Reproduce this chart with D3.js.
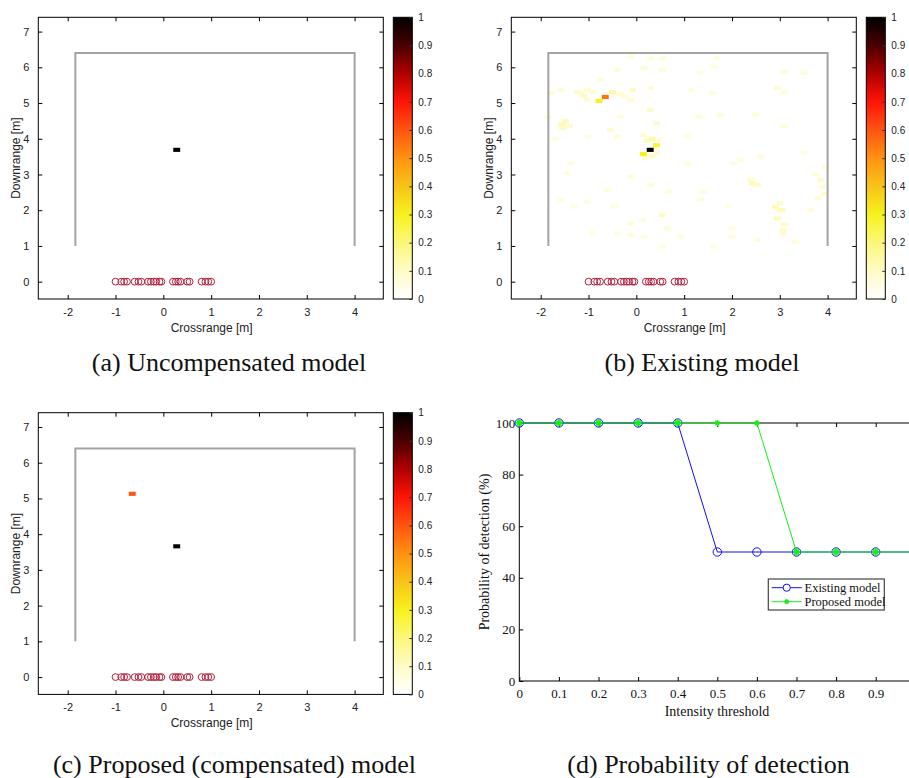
<!DOCTYPE html>
<html><head><meta charset="utf-8">
<script src="https://cdn.jsdelivr.net/npm/d3@7"></script>
<style>body{margin:0;background:#fff}svg{display:block}</style>
</head><body>
<svg id="fig" width="909" height="778"></svg>
<script>
// ---------------- data ----------------
const mapXTicks = [-2, -1, 0, 1, 2, 3, 4];
const mapYTicks = [0, 1, 2, 3, 4, 5, 6, 7];
const cbTicks = [0, 0.1, 0.2, 0.3, 0.4, 0.5, 0.6, 0.7, 0.8, 0.9, 1];
const cbLabels = ["0", "0.1", "0.2", "0.3", "0.4", "0.5", "0.6", "0.7", "0.8", "0.9", "1"];
const wallX = [-1.84, -1.84, 4.0, 4.0];
const wallY = [1.0, 6.4, 6.4, 1.0];
const arrayX = [-1.0, -0.88, -0.82, -0.76, -0.6, -0.52, -0.46, -0.32, -0.26, -0.2, -0.15, -0.08, -0.04,
                0.2, 0.26, 0.31, 0.36, 0.5, 0.55, 0.8, 0.88, 0.94, 1.0];
const cellsA = [[0.28, 3.69, 1.0]];
const cellsB = [
  [0.29, 3.69, 1.0], [-0.65, 5.17, 0.55], [-0.78, 5.06, 0.3], [0.15, 3.57, 0.3], [0.42, 3.82, 0.27],
  [-0.5, 5.3, 0.14], [0.33, 4.0, 0.14], [0.23, 3.95, 0.12], [0.33, 3.52, 0.1], [0.43, 3.62, 0.09],
  [-1.1, 5.2, 0.1], [-1.23, 5.3, 0.09], [-1.55, 4.4, 0.12], [-1.48, 4.5, 0.11], [-1.55, 4.3, 0.09],
  [0.29, 4.8, 0.1], [0.42, 4.43, 0.09], [-0.08, 5.37, 0.1], [-0.12, 5.09, 0.08], [0.3, 5.42, 0.08],
  [2.43, 2.75, 0.12], [2.53, 2.7, 0.1], [2.91, 2.1, 0.12], [3.05, 2.0, 0.12], [2.95, 1.77, 0.12],
  [3.07, 1.45, 0.09], [3.07, 1.35, 0.08], [3.85, 2.85, 0.09], [3.89, 2.66, 0.08], [0.54, 1.87, 0.1],
  [0.68, 2.52, 0.07], [3.5, 5.84, 0.07], [3.09, 5.88, 0.08], [2.95, 5.42, 0.07], [3.09, 5.3, 0.08],
  [-0.12, 6.3, 0.06], [0.3, 6.25, 0.07], [0.54, 6.25, 0.07], [-0.4, 5.93, 0.07], [0.16, 5.98, 0.07],
  [0.54, 5.93, 0.07], [1.62, 6.02, 0.06], [1.69, 6.25, 0.06], [1.34, 5.84, 0.06], [2.49, 4.67, 0.06],
  [1.76, 4.67, 0.06], [1.31, 4.62, 0.07], [1.59, 5.28, 0.06], [1.14, 5.37, 0.06], [2.18, 3.41, 0.06],
  [2.6, 3.5, 0.07], [3.09, 4.34, 0.07], [3.5, 3.6, 0.06], [-0.54, 4.25, 0.08], [-0.4, 4.06, 0.07],
  [-1.02, 4.06, 0.06], [-1.37, 3.31, 0.07], [-1.44, 3.03, 0.06], [-1.58, 2.29, 0.06], [-1.02, 2.24, 0.06],
  [-1.3, 2.1, 0.06], [-0.12, 2.94, 0.07], [0.3, 2.7, 0.07], [-0.12, 1.63, 0.07], [0.13, 1.73, 0.06],
  [-0.12, 1.31, 0.07], [0.16, 1.26, 0.06], [-0.4, 1.35, 0.06], [-0.92, 1.35, 0.06], [0.54, 0.98, 0.06],
  [0.93, 1.26, 0.06], [1.62, 0.98, 0.06], [2.0, 1.49, 0.06], [2.0, 1.26, 0.06], [2.53, 1.17, 0.06],
  [3.33, 1.12, 0.07], [3.64, 2.0, 0.07], [0.65, 1.49, 0.07], [1.07, 3.31, 0.06], [1.41, 2.52, 0.06],
  [2.04, 3.31, 0.06], [1.34, 2.29, 0.06], [1.93, 2.1, 0.06], [-0.61, 2.57, 0.06], [-0.47, 2.1, 0.06],
  [1.07, 4.06, 0.06], [-1.02, 5.37, 0.08], [-1.16, 5.28, 0.08], [-1.58, 5.37, 0.07], [-1.79, 5.28, 0.07],
  [-1.02, 5.09, 0.07], [-0.33, 4.62, 0.07], [-0.75, 5.65, 0.06], [-0.35, 5.25, 0.08], [-0.25, 5.2, 0.07],
  [3.75, 3.0, 0.08], [3.95, 2.45, 0.08], [3.95, 3.2, 0.07], [3.8, 2.35, 0.07], [3.1, 1.6, 0.09],
  [2.4, 2.85, 0.08], [2.98, 2.0, 0.09], [3.0, 2.2, 0.08], [-1.7, 4.0, 0.06], [-1.85, 4.6, 0.06],
  [-1.4, 4.35, 0.08], [-0.9, 5.3, 0.07], [0.15, 4.1, 0.08], [0.45, 3.95, 0.08], [0.2, 3.45, 0.08]
];
const cellsC = [[0.28, 3.66, 1.0], [-0.65, 5.13, 0.6]];
const thresholds = [0, 0.1, 0.2, 0.3, 0.4, 0.5, 0.6, 0.7, 0.8, 0.9, 1.0];
const existingPd = [100, 100, 100, 100, 100, 50, 50, 50, 50, 50, 50];
const proposedPd = [100, 100, 100, 100, 100, 100, 100, 50, 50, 50, 50];
const pdXTicks = [0, 0.1, 0.2, 0.3, 0.4, 0.5, 0.6, 0.7, 0.8, 0.9, 1];
const pdXLabels = ["0", "0.1", "0.2", "0.3", "0.4", "0.5", "0.6", "0.7", "0.8", "0.9", ""];
const pdYTicks = [0, 20, 40, 60, 80, 100];
const captions = ["(a) Uncompensated model", "(b) Existing model", "(c) Proposed (compensated) model", "(d) Probability of detection"];

// ---------------- drawing ----------------
const svg = d3.select("#fig");
const SANS = "'Liberation Sans', Arial, sans-serif";
const SERIF = "'Liberation Serif', 'Times New Roman', serif";
const defs = svg.append("defs");
defs.append("filter").attr("id", "soft").attr("x", "-50%").attr("y", "-50%").attr("width", "200%").attr("height", "200%")
  .append("feGaussianBlur").attr("stdDeviation", 0.6);

const hot = d3.scaleLinear()
  .domain([0, 0.1, 0.2, 0.3, 0.4, 0.5, 0.6, 0.7, 0.8, 0.9, 1])
  .range(["#ffffff", "#fffbc6", "#fbf77a", "#f6f21c", "#f8c418", "#ff9210", "#ff5410", "#ff1408", "#b00000", "#4a0000", "#000000"])
  .clamp(true);

const DX = 0.145, DY = 0.115;

function mapPanel(ox, oy, cells) {
  const L = 38.3 + ox, R = 383.3 + ox, T = 17.3 + oy, B = 299 + oy;
  const x = d3.scaleLinear().domain([-2.615, 4.6]).range([L, R]);
  const y = d3.scaleLinear().domain([-0.485, 7.4]).range([B, T]);
  const g = svg.append("g");
  // cells
  g.append("g").attr("filter", "url(#soft)")
    .selectAll("rect").data(cells.slice().sort((a, b) => a[2] - b[2])).join("rect")
    .attr("x", d => x(d[0] - DX / 2)).attr("y", d => y(d[1] + DY / 2))
    .attr("width", x(DX) - x(0)).attr("height", y(0) - y(DY))
    .attr("fill", d => hot(d[2]));
  // wall
  const line = d3.line().x(d => x(d[0])).y(d => y(d[1]));
  g.append("path").datum(wallX.map((v, i) => [v, wallY[i]]))
    .attr("d", line).attr("fill", "none").attr("stroke", "#a3a3a3").attr("stroke-width", 2);
  // array elements
  g.selectAll("circle.el").data(arrayX).join("circle")
    .attr("cx", d => x(d)).attr("cy", y(0)).attr("r", 3.4)
    .attr("fill", "none").attr("stroke", "#b3203c").attr("stroke-width", 1);
  // frame
  g.append("rect").attr("x", L).attr("y", T).attr("width", R - L).attr("height", B - T)
    .attr("fill", "none").attr("stroke", "#000").attr("stroke-width", 1);
  // axes with inward ticks
  const tl = 4;
  const ax = g.append("g").attr("transform", `translate(0,${B})`)
    .call(d3.axisBottom(x).tickValues(mapXTicks).tickSize(-tl).tickPadding(9).tickFormat(d3.format("d")));
  const axt = g.append("g").attr("transform", `translate(0,${T})`)
    .call(d3.axisTop(x).tickValues(mapXTicks).tickSize(-tl).tickFormat(""));
  const ay = g.append("g").attr("transform", `translate(${L},0)`)
    .call(d3.axisLeft(y).tickValues(mapYTicks).tickSize(-tl).tickPadding(9).tickFormat(d3.format("d")));
  const ayr = g.append("g").attr("transform", `translate(${R},0)`)
    .call(d3.axisRight(y).tickValues(mapYTicks).tickSize(-tl).tickFormat(""));
  [ax, axt, ay, ayr].forEach(a => {
    a.select(".domain").remove();
    a.selectAll("text").attr("font-family", SANS).attr("font-size", 11).attr("fill", "#222");
  });
  ax.selectAll("text").text(d => d < 0 ? "-" + Math.abs(d) : d);
  g.append("text").attr("x", (x(-2) + x(4)) / 2 + 0.5).attr("y", B + 33)
    .attr("text-anchor", "middle").attr("font-family", SANS).attr("font-size", 12).attr("fill", "#222")
    .text("Crossrange [m]");
  g.append("text").attr("transform", `translate(${L - 18},${(T + B) / 2}) rotate(-90)`)
    .attr("text-anchor", "middle").attr("font-family", SANS).attr("font-size", 12).attr("fill", "#222")
    .text("Downrange [m]");
  // colorbar
  const cL = 393.3 + ox, cW = 19;
  const cy = d3.scaleLinear().domain([0, 1]).range([B, T]);
  const gradId = "grad" + ox + "_" + Math.round(oy);
  const grad = defs.append("linearGradient").attr("id", gradId)
    .attr("x1", 0).attr("y1", 1).attr("x2", 0).attr("y2", 0);
  d3.range(0, 1.0001, 0.05).forEach(v => grad.append("stop").attr("offset", v).attr("stop-color", hot(v)));
  g.append("rect").attr("x", cL).attr("y", T).attr("width", cW).attr("height", B - T)
    .attr("fill", `url(#${gradId})`).attr("stroke", "#000").attr("stroke-width", 1);
  const cax = g.append("g").attr("transform", `translate(${cL + cW},0)`)
    .call(d3.axisRight(cy).tickValues(cbTicks).tickSize(-3).tickPadding(6).tickFormat((d, i) => cbLabels[i]));
  cax.select(".domain").remove();
  cax.selectAll("line").attr("stroke", "#333");
  cax.selectAll("text").attr("font-family", SANS).attr("font-size", 10).attr("fill", "#222");
}

mapPanel(0, 0, cellsA);
mapPanel(473, 0, cellsB);
mapPanel(0, 395.4, cellsC);

// ---------------- panel d ----------------
(function () {
  const L = 519.3, T = 423, B = 681;
  const x = d3.scaleLinear().domain([0, 1]).range([L, L + 396]);
  const y = d3.scaleLinear().domain([0, 100]).range([B, T]);
  const R = x(1);
  const g = svg.append("g");
  g.append("rect").attr("x", L).attr("y", T).attr("width", R - L).attr("height", B - T)
    .attr("fill", "none").attr("stroke", "#000").attr("stroke-width", 1);
  const tl = 4;
  const ax = g.append("g").attr("transform", `translate(0,${B})`)
    .call(d3.axisBottom(x).tickValues(pdXTicks).tickSize(-tl).tickPadding(8).tickFormat((d, i) => pdXLabels[i]));
  const axt = g.append("g").attr("transform", `translate(0,${T})`)
    .call(d3.axisTop(x).tickValues(pdXTicks).tickSize(-tl).tickFormat(""));
  const ay = g.append("g").attr("transform", `translate(${L},0)`)
    .call(d3.axisLeft(y).tickValues(pdYTicks).tickSize(-tl).tickPadding(4));
  [ax, axt, ay].forEach(a => {
    a.select(".domain").remove();
    a.selectAll("text").attr("font-family", SERIF).attr("font-size", 13).attr("fill", "#111");
  });
  g.append("text").attr("x", 717).attr("y", 716).attr("text-anchor", "middle")
    .attr("font-family", SERIF).attr("font-size", 14).attr("fill", "#111").text("Intensity threshold");
  g.append("text").attr("transform", `translate(489,552) rotate(-90)`).attr("text-anchor", "middle")
    .attr("font-family", SERIF).attr("font-size", 14).attr("fill", "#111").text("Probability of detection (%)");

  const line = d3.line().x(d => x(d[0])).y(d => y(d[1]));
  const ex = thresholds.map((t, i) => [t, existingPd[i]]);
  const pr = thresholds.map((t, i) => [t, proposedPd[i]]);
  const BLUE = "#1010f0", GREEN = "#18ee18";
  g.append("path").datum(ex).attr("d", line).attr("fill", "none").attr("stroke", BLUE).attr("stroke-width", 1);
  g.selectAll("circle.ex").data(ex).join("circle")
    .attr("cx", d => x(d[0])).attr("cy", d => y(d[1])).attr("r", 4.2)
    .attr("fill", "none").attr("stroke", BLUE).attr("stroke-width", 1);
  g.append("path").datum(pr).attr("d", line).attr("fill", "none").attr("stroke", GREEN).attr("stroke-width", 1);
  function star(sel, cx, cy, r) {
    const s = sel.append("g").attr("transform", `translate(${cx},${cy})`);
    s.append("circle").attr("r", r * 0.7).attr("fill", GREEN);
    [0, 45, 90, 135].forEach(a => {
      const rad = a * Math.PI / 180;
      s.append("line").attr("x1", -r * Math.cos(rad)).attr("y1", -r * Math.sin(rad))
        .attr("x2", r * Math.cos(rad)).attr("y2", r * Math.sin(rad))
        .attr("stroke", GREEN).attr("stroke-width", 1.3);
    });
  }
  pr.forEach((d, i) => {
    const overlap = existingPd[i] === proposedPd[i];
    star(g, x(d[0]), y(d[1]), overlap ? 3.8 : 3.0);
  });

  // legend
  const lg = g.append("g");
  lg.append("rect").attr("x", 768.3).attr("y", 579).attr("width", 116).attr("height", 31)
    .attr("fill", "#fff").attr("stroke", "#444").attr("stroke-width", 1.2);
  lg.append("line").attr("x1", 771.7).attr("x2", 801.7).attr("y1", 587.7).attr("y2", 587.7).attr("stroke", BLUE);
  lg.append("circle").attr("cx", 786.7).attr("cy", 587.7).attr("r", 3.6).attr("fill", "#fff").attr("stroke", BLUE);
  lg.append("line").attr("x1", 771.7).attr("x2", 801.7).attr("y1", 601.7).attr("y2", 601.7).attr("stroke", GREEN);
  star(lg, 786.7, 601.7, 2.6);
  lg.append("text").attr("x", 804.5).attr("y", 591.8).attr("font-family", SERIF).attr("font-size", 12.5)
    .attr("fill", "#111").text("Existing model");
  lg.append("text").attr("x", 804.5).attr("y", 605.8).attr("font-family", SERIF).attr("font-size", 12.5)
    .attr("fill", "#111").text("Proposed model");
})();

// ---------------- captions ----------------
const capPos = [[229, 371], [702, 371], [234.5, 773], [708.5, 773]];
svg.selectAll("text.cap").data(captions).join("text")
  .attr("x", (d, i) => capPos[i][0]).attr("y", (d, i) => capPos[i][1])
  .attr("text-anchor", "middle").attr("font-family", SERIF).attr("font-size", 26).attr("fill", "#111")
  .text(d => d);
</script>
</body></html>
